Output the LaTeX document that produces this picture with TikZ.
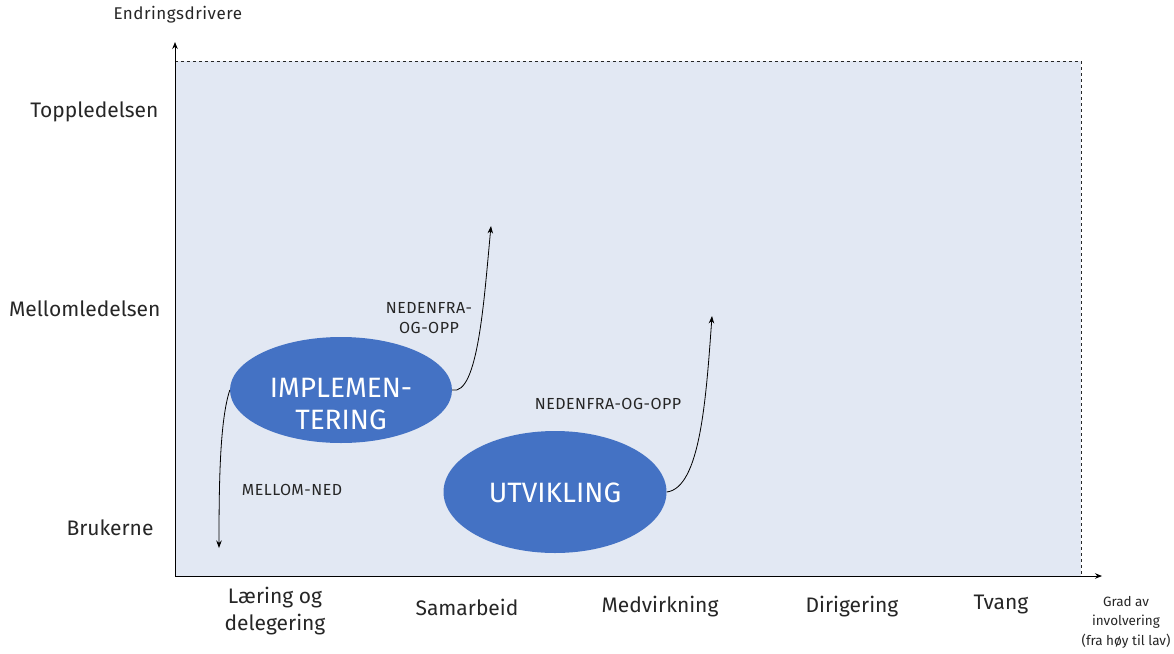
\documentclass[tikz,border=0pt]{standalone}
\usepackage{fontspec}
\setmainfont{Fira Sans}
\usetikzlibrary{arrows.meta,shapes.geometric}
\definecolor{panel}{HTML}{E2E8F3}
\definecolor{blob}{HTML}{4472C4}
\definecolor{ink}{HTML}{262626}
\newfontfamily\tagfont[LetterSpace=3]{Fira Sans}
\begin{document}
\begin{tikzpicture}[x=1pt,y=-1pt,
  axis/.style={line width=0.9pt,-{Stealth[length=7pt,width=5.5pt]}},
  flow/.style={line width=0.8pt,-{Stealth[length=7.5pt,width=5.5pt]}},
  blobnode/.style={ellipse,fill=blob,inner sep=0pt},
  blobtext/.style={text=white,font=\fontsize{28}{32}\selectfont,align=center},
  level/.style={anchor=east,font=\fontsize{21}{24}\selectfont,text=ink},
  mode/.style={anchor=center,font=\fontsize{21}{27}\selectfont,text=ink,align=center},
  tag/.style={font=\tagfont\fontsize{16}{20}\selectfont,text=ink,align=center},
]
\useasboundingbox (0,0) rectangle (1174,653);
\fill[white] (0,0) rectangle (1174,653);
% panel
\fill[panel] (175,61) rectangle (1081,576);
\draw[ink,dashed,line width=0.8pt] (175,61) -- (1081,61) -- (1081,576);
% axes
\coordinate (o) at (175,576);
\coordinate (ytop) at (175,42);
\coordinate (xend) at (1102,576);
\draw[axis] (o) -- (ytop);
\draw[axis] (o) -- (xend);
\node[anchor=west,font=\tagfont\fontsize{17}{20}\selectfont,text=ink] (ylab) at (110,15) {Endringsdrivere};
% levels
\node[level] (top) at (162,112) {Toppledelsen};
\node[level] (mid) at (164,309) {Mellomledelsen};
\node[level] (low) at (157,528) {Brukerne};
% modes
\node[mode] (m1) at (275,611) {Læring og\\delegering};
\node[mode] (m2) at (467,607) {Samarbeid};
\node[mode] (m3) at (660,607) {Medvirkning};
\node[mode] (m4) at (852,607) {Dirigering};
\node[mode] (m5) at (1001,604) {Tvang};
\node[align=center,text=ink,font=\fontsize{13.5}{19.5}\selectfont] (xlab) at (1126,622) {Grad av\\involvering\\(fra høy til lav)};
% ellipses
\node[blobnode,minimum width=222pt,minimum height=106pt] (impl) at (341,390) {};
\node[blobtext] (implt) at (341,404) {IMPLEMEN-\\TERING};
\node[blobnode,minimum width=223pt,minimum height=122pt] (utv) at (555,492) {};
\node[blobtext] (utvt) at (555,493) {UTVIKLING};
% arrow ends
\coordinate (a1) at (491,226);
\coordinate (a2) at (712,316);
\coordinate (a3) at (219,548);
\draw[flow] (impl.east) .. controls (478,396) and (484,300) .. (a1);
\draw[flow] (utv.east) .. controls (700,488) and (706,400) .. (a2);
\draw[flow] (impl.west) .. controls (220,420) and (219,480) .. (a3);
% labels
\node[tag] (l1) at (429,318) {NEDENFRA-\\OG-OPP};
\node[tag] (l2) at (608,404) {NEDENFRA-OG-OPP};
\node[tag] (l3) at (292,490) {MELLOM-NED};
\end{tikzpicture}
\end{document}
